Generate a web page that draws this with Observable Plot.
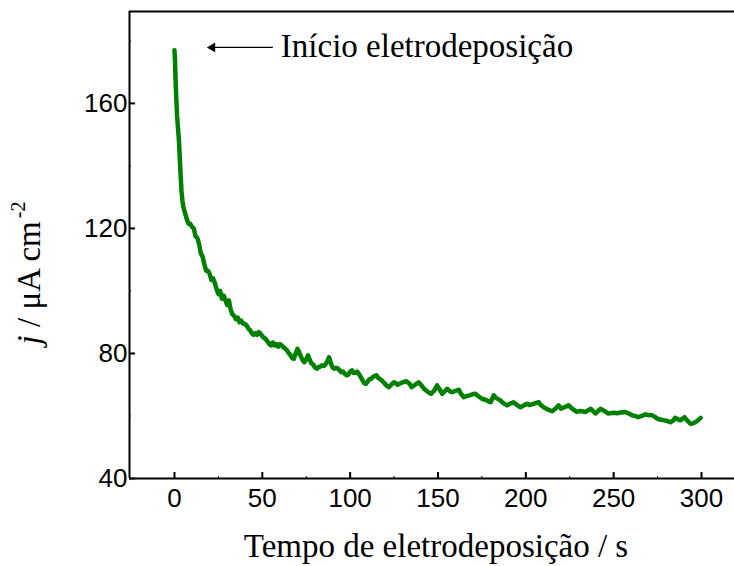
<!DOCTYPE html>
<html><head><meta charset="utf-8">
<script src="https://cdn.jsdelivr.net/npm/d3@7"></script>
<script src="https://cdn.jsdelivr.net/npm/@observablehq/plot@0.6"></script>
<style>
body{margin:0;background:#fff}
#chart{position:relative;width:734px;height:566px}
#chart svg g[aria-label$="tick label"], #chart svg g[aria-label$="tick label"] text{font-size:26px !important;font-family:'Liberation Sans', Arial, sans-serif !important;}
</style>
</head><body><div id="chart"></div>
<script>
const time = [0,0.3,0.6,1,1.5,2,2.5,3,3.5,4,4.5,5,6,7,8,9,10,11,12,13,14,15,16,17,18,19,20,21,22,23,24,25,26,27,28,29,30,31,32,33,34,35,36,37,38,39,40,41,42,43,44,45,46,47,48,49,50,51,52,53,54,55,56,57,58,59,60,61,62,63,64,65,66,67,68,69,70,71,72,73,74,75,76,77,78,79,80,81,82,83,84,85,86,87,88,89,90,91,92,93,94,95,96,97,98,99,100,101,102,103,104,105,106,107,108,109,110,111,112,113,114,115,116,117,118,119,120,121,122,123,124,125,126,127,128,130,132,134,135,137,139,141,142,144,146,148,149.5,151,152.4,154,155.2,157,158,160,161.8,163,164.7,166,168,170,171.3,173,175,177,179,180,181.7,183,185.5,187,189.4,191,193,195,197,199,200.7,202,204,205.5,207.4,208.5,210.2,212,215,217,218.7,220,222,224.4,226,229,231,234,237,239.6,242.5,245,247,250,252,254,256.7,258.5,260.5,262,264,266,268,270,272,273.5,275,277,279,281,282.3,284,285,287,288,290.3,292,293.7,295,296.5,298,299.5];
const current = [177,174,168,162,156,152,148.5,143,137,132,129,127,125,123,121.5,121.5,120.5,120,117.5,117,115,112,111,108.5,106.5,106.5,105.5,103.5,104,102.5,100.5,99,100,97.5,98.5,97,95.5,97,94,92.5,92,91,91.5,90,90.5,89.5,89.5,89,88,87.5,86.5,86,86.5,86,86.8,86.3,85.5,85,84.6,83.8,83,82.6,83.5,82.6,83,82.2,83,82.6,82,81.6,81,80.2,79.5,78.5,78.3,80,81.5,80.4,79,77.8,77.2,78.2,79.4,78,76.8,76.5,75.5,75.1,75.6,75.8,76.2,76,76.5,77.5,78.8,77,75.5,75.1,75.4,75.2,74.6,74,74.2,73.5,73,73.2,74.2,74.6,73.8,73.8,74.2,73.5,72.5,71.5,70.5,70.3,71,71.8,71.9,72.5,72.8,73,72.2,71.8,71.4,70.8,70.2,69.6,69.2,69.8,70.3,70.8,70.5,70,70.3,70.8,71.1,70.2,69.2,70,70.8,69.5,68.7,67.8,67.1,68.2,69.8,68.5,67.1,68,68.7,67.8,67.6,68,68.4,67.2,66,66.3,66.6,67,67.1,66.3,65.5,65.2,64.6,64.4,66.6,65.8,65,64.2,63.4,63.9,64.4,63.5,62.8,63.4,63.9,63.5,63.8,64.1,64.4,63.5,62.8,62.2,61.5,62.4,63.4,62.3,62.8,63.4,62.5,61.3,61.6,61.3,62.3,60.8,62.3,61.5,60.8,61,60.9,61.1,61.3,60.8,60.2,60,59.6,60,60.5,60.3,60.2,59.7,59.1,58.8,58.6,58.3,58,58.6,59.4,58.8,58.6,59.6,58.5,57.5,57.6,58,58.6,59.4];

const xTicks = [0,50,100,150,200,250,300];
const xMinorTicks = [25,75,125,175,225,275];
const yTicks = [40,80,120,160];
const yMinorTicks = [60,100,140,180];
const xDomain = [-25.6, 318.8];
const yDomain = [40, 189.4];
const annotation = [{x1: 56, x2: 19.6, y: 177.9, label: "Início eletrodeposição"}];

const W = 734, H = 566, ML = 129, MR = 0, MT = 11, MB = 88;
const green = "#008000";
const serif = "'Liberation Serif', 'Times New Roman', serif";
const data = time.map((t, i) => ({t, j: current[i]}));

// pixels per data unit, used to express tick lengths
const pxX = (W - ML - MR) / (xDomain[1] - xDomain[0]);
const pxY = (H - MT - MB) / (yDomain[1] - yDomain[0]);

const plot = Plot.plot({
  width: W, height: H,
  marginLeft: ML, marginRight: MR, marginTop: MT, marginBottom: MB,
  style: {fontFamily: "'Liberation Sans', Arial, sans-serif", fontSize: "26px", color: "#000", background: "#fff"},
  x: {domain: xDomain},
  y: {domain: yDomain},
  marks: [
    Plot.axisX({ticks: xTicks, tickSize: 0, tickPadding: 10, label: null, fontSize: 26}),
    Plot.axisY({ticks: yTicks, tickSize: 0, tickPadding: 2, label: null, fontSize: 26}),
    Plot.ruleX(xTicks, {x: d => d, y1: yDomain[0], y2: yDomain[0] + 6 / pxY, stroke: "#000", strokeWidth: 2}),
    Plot.ruleX(xMinorTicks, {x: d => d, y1: yDomain[0], y2: yDomain[0] + 2 / pxY, stroke: "#000", strokeWidth: 1}),
    Plot.ruleY(yTicks, {y: d => d, x1: xDomain[0], x2: xDomain[0] + 6 / pxX, stroke: "#000", strokeWidth: 2}),
    Plot.ruleY(yMinorTicks, {y: d => d, x1: xDomain[0], x2: xDomain[0] + 2 / pxX, stroke: "#000", strokeWidth: 1}),
    Plot.ruleY([yDomain[0], yDomain[1]], {stroke: "#000", strokeWidth: 2}),
    Plot.ruleX([xDomain[0]], {stroke: "#000", strokeWidth: 2}),
    Plot.line(data, {x: "t", y: "j", stroke: green, strokeWidth: 4.5, strokeLinejoin: "round", strokeLinecap: "round"}),
    Plot.link(annotation, {x1: "x1", x2: d => d.x2 + 4 / pxX, y1: "y", y2: "y", stroke: "#000", strokeWidth: 1.2}),
    Plot.dot(annotation, {x: d => d.x2 + 3.5 / pxX, y: "y", symbol: "triangle", rotate: -90, r: 3.6, fill: "#000", stroke: null}),
    Plot.text(annotation, {x: d => d.x1 + 8 / pxX, y: "y", text: "label", textAnchor: "start", fontFamily: serif, fontSize: 33, fill: "#000", dy: -1})
  ]
});

document.getElementById("chart").appendChild(plot);
const svg = d3.select(plot);

svg.append("text")
  .attr("x", 436).attr("y", 557)
  .attr("text-anchor", "middle")
  .attr("font-family", serif)
  .attr("font-size", 33)
  .attr("fill", "#000")
  .text("Tempo de eletrodeposição / s");

const yl = svg.append("text")
  .attr("transform", "translate(40,273) rotate(-90)")
  .attr("text-anchor", "middle")
  .attr("font-family", serif)
  .attr("font-size", 33)
  .attr("fill", "#000");
yl.append("tspan").attr("font-style", "italic").text("j");
yl.append("tspan").text(" / μA cm");
yl.append("tspan").attr("font-size", 20).attr("dy", -15).attr("dx", 3).text("-2");
</script>
</body></html>
